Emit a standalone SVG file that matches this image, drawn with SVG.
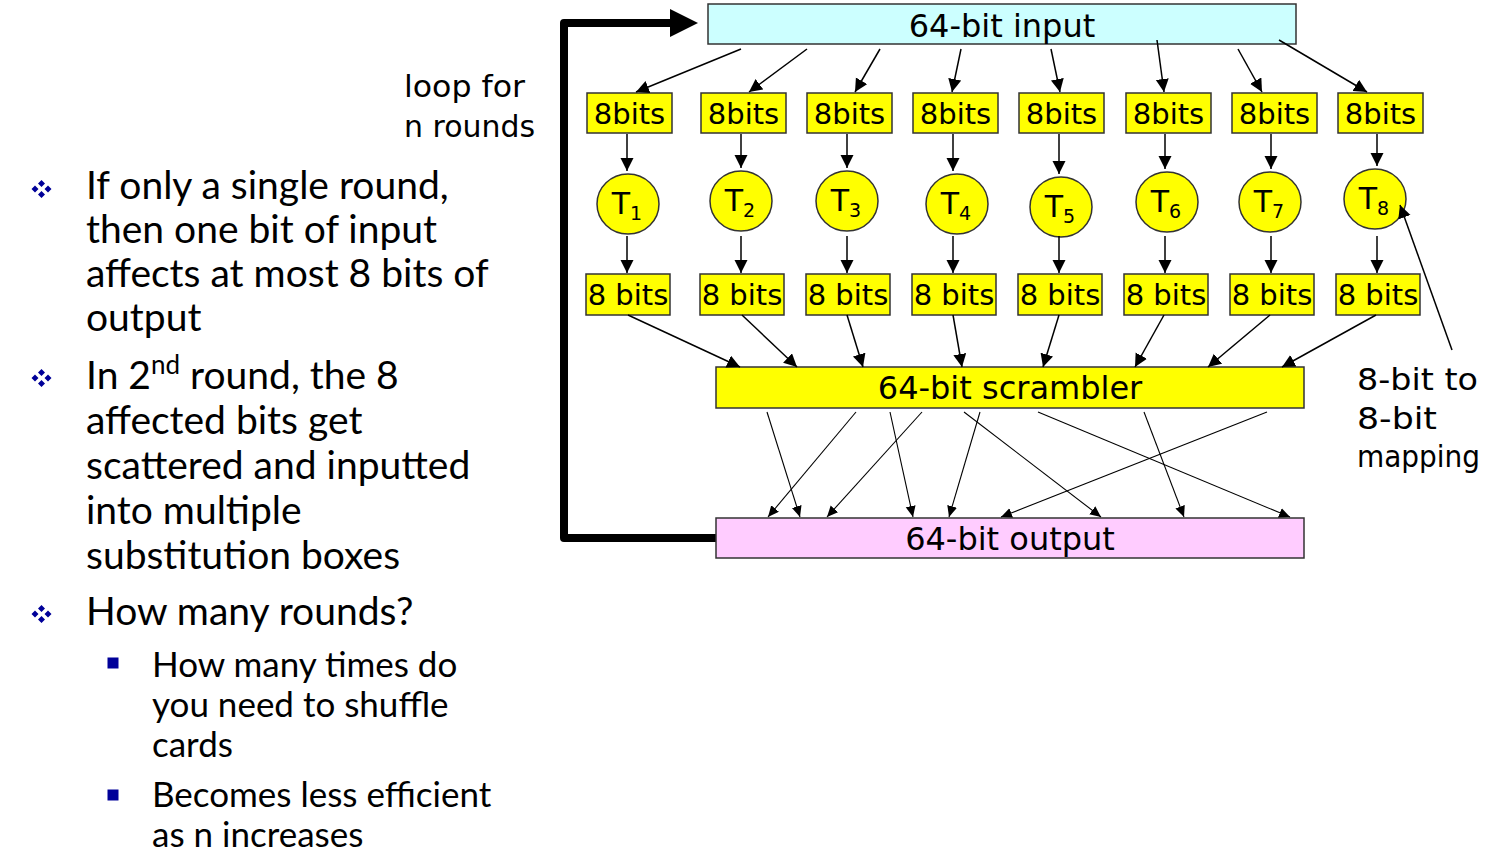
<svg xmlns="http://www.w3.org/2000/svg" width="1502" height="866" viewBox="0 0 1502 866">
<style>
.bx{fill:#ffff00;stroke:#333;stroke-width:1.5}
.lbl{font-family:"DejaVu Sans",sans-serif;fill:#000;text-anchor:middle}
.b8{font-size:29px}
.txt{font-family:Lato,"Open Sans",sans-serif;font-size:39px;fill:#000}
.sub{font-size:35px}
.c1{stroke:#000;stroke-width:1.5;fill:none;marker-end:url(#ah)}
.c2{stroke:#000;stroke-width:1.1;fill:none;marker-end:url(#ah2)}
.bul{fill:#000099}
</style>
<defs>
<marker id="ah" markerUnits="userSpaceOnUse" markerWidth="14" markerHeight="14" refX="13" refY="6.5" orient="auto"><path d="M0,0 L13,6.5 L0,13 z" fill="#000"/></marker>
<marker id="ah2" markerUnits="userSpaceOnUse" markerWidth="12" markerHeight="12" refX="11" refY="5" orient="auto"><path d="M0,0 L11,5 L0,10 z" fill="#000"/></marker>
<g id="dia"><path d="M0,-9 L3.5,-5.5 L0,-2 L-3.5,-5.5 z M-6.5,-3.5 L-3,0 L-6.5,3.5 L-10,0 z M6.5,-3.5 L10,0 L6.5,3.5 L3,0 z M0,2 L3.5,5.5 L0,9 L-3.5,5.5 z"/></g>
</defs>
<rect width="1502" height="866" fill="#fff"/>

<!-- loop arrow -->
<g id="loop">
<path d="M716,538 L564,538 L564,23 L672,23" stroke="#000" stroke-width="8" fill="none" stroke-linejoin="round"/>
<path d="M670,9 L698,23 L670,37 z" fill="#000"/>
</g>

<g id="input"><rect x="708" y="4" width="588" height="40" fill="#ccffff" stroke="#333" stroke-width="1.5"/><text class="lbl" x="1002" y="37" font-size="32">64-bit input</text></g>

<g id="in1"><rect class="bx" x="587" y="93" width="85" height="40"/><text class="lbl b8" x="629.5" y="124">8bits</text></g>
<g id="in2"><rect class="bx" x="701" y="93" width="85" height="40"/><text class="lbl b8" x="743.5" y="124">8bits</text></g>
<g id="in3"><rect class="bx" x="807" y="93" width="85" height="40"/><text class="lbl b8" x="849.5" y="124">8bits</text></g>
<g id="in4"><rect class="bx" x="913" y="93" width="85" height="40"/><text class="lbl b8" x="955.5" y="124">8bits</text></g>
<g id="in5"><rect class="bx" x="1019" y="93" width="85" height="40"/><text class="lbl b8" x="1061.5" y="124">8bits</text></g>
<g id="in6"><rect class="bx" x="1126" y="93" width="85" height="40"/><text class="lbl b8" x="1168.5" y="124">8bits</text></g>
<g id="in7"><rect class="bx" x="1232" y="93" width="85" height="40"/><text class="lbl b8" x="1274.5" y="124">8bits</text></g>
<g id="in8"><rect class="bx" x="1338" y="93" width="85" height="40"/><text class="lbl b8" x="1380.5" y="124">8bits</text></g>

<g id="t1"><ellipse class="bx" cx="628" cy="204" rx="31" ry="30"/><text class="lbl" x="627" y="214" font-size="30">T<tspan font-size="19" dy="6">1</tspan></text></g>
<g id="t2"><ellipse class="bx" cx="741" cy="201" rx="31" ry="30"/><text class="lbl" x="740" y="211" font-size="30">T<tspan font-size="19" dy="6">2</tspan></text></g>
<g id="t3"><ellipse class="bx" cx="847" cy="201" rx="31" ry="30"/><text class="lbl" x="846" y="211" font-size="30">T<tspan font-size="19" dy="6">3</tspan></text></g>
<g id="t4"><ellipse class="bx" cx="957" cy="204" rx="31" ry="30"/><text class="lbl" x="956" y="214" font-size="30">T<tspan font-size="19" dy="6">4</tspan></text></g>
<g id="t5"><ellipse class="bx" cx="1061" cy="207" rx="31" ry="30"/><text class="lbl" x="1060" y="217" font-size="30">T<tspan font-size="19" dy="6">5</tspan></text></g>
<g id="t6"><ellipse class="bx" cx="1167" cy="202" rx="31" ry="30"/><text class="lbl" x="1166" y="212" font-size="30">T<tspan font-size="19" dy="6">6</tspan></text></g>
<g id="t7"><ellipse class="bx" cx="1270" cy="202" rx="31" ry="30"/><text class="lbl" x="1269" y="212" font-size="30">T<tspan font-size="19" dy="6">7</tspan></text></g>
<g id="t8"><ellipse class="bx" cx="1375" cy="199" rx="31" ry="30"/><text class="lbl" x="1374" y="209" font-size="30">T<tspan font-size="19" dy="6">8</tspan></text></g>

<g id="out1"><rect class="bx" x="586" y="274" width="84" height="41"/><text class="lbl b8" x="628" y="305">8 bits</text></g>
<g id="out2"><rect class="bx" x="700" y="274" width="84" height="41"/><text class="lbl b8" x="742" y="305">8 bits</text></g>
<g id="out3"><rect class="bx" x="806" y="274" width="84" height="41"/><text class="lbl b8" x="848" y="305">8 bits</text></g>
<g id="out4"><rect class="bx" x="912" y="274" width="84" height="41"/><text class="lbl b8" x="954" y="305">8 bits</text></g>
<g id="out5"><rect class="bx" x="1018" y="274" width="84" height="41"/><text class="lbl b8" x="1060" y="305">8 bits</text></g>
<g id="out6"><rect class="bx" x="1124" y="274" width="84" height="41"/><text class="lbl b8" x="1166" y="305">8 bits</text></g>
<g id="out7"><rect class="bx" x="1230" y="274" width="84" height="41"/><text class="lbl b8" x="1272" y="305">8 bits</text></g>
<g id="out8"><rect class="bx" x="1336" y="274" width="84" height="41"/><text class="lbl b8" x="1378" y="305">8 bits</text></g>

<g id="scrambler"><rect class="bx" x="716" y="367" width="588" height="41"/><text class="lbl" x="1010" y="399" font-size="32">64-bit scrambler</text></g>
<g id="output"><rect x="716" y="518" width="588" height="40" fill="#ffccff" stroke="#333" stroke-width="1.5"/><text class="lbl" x="1010" y="550" font-size="32">64-bit output</text></g>

<g id="connectors">
<line class="c1" x1="741" y1="49" x2="636" y2="92"/>
<line class="c1" x1="807" y1="49" x2="749" y2="92"/>
<line class="c1" x1="880" y1="49" x2="855" y2="92"/>
<line class="c1" x1="961" y1="49" x2="952" y2="92"/>
<line class="c1" x1="1051" y1="49" x2="1060" y2="92"/>
<line class="c1" x1="1157" y1="40" x2="1164" y2="92"/>
<line class="c1" x1="1238" y1="49" x2="1262" y2="92"/>
<line class="c1" x1="1279" y1="40" x2="1367" y2="92"/>

<line class="c1" x1="627" y1="134" x2="627" y2="171"/>
<line class="c1" x1="741" y1="134" x2="741" y2="168"/>
<line class="c1" x1="847" y1="134" x2="847" y2="168"/>
<line class="c1" x1="953" y1="134" x2="953" y2="171"/>
<line class="c1" x1="1059" y1="134" x2="1059" y2="174"/>
<line class="c1" x1="1165" y1="134" x2="1165" y2="169"/>
<line class="c1" x1="1271" y1="134" x2="1271" y2="169"/>
<line class="c1" x1="1377" y1="134" x2="1377" y2="166"/>

<line class="c1" x1="627" y1="236" x2="627" y2="273"/>
<line class="c1" x1="741" y1="236" x2="741" y2="273"/>
<line class="c1" x1="847" y1="236" x2="847" y2="273"/>
<line class="c1" x1="953" y1="236" x2="953" y2="273"/>
<line class="c1" x1="1059" y1="236" x2="1059" y2="273"/>
<line class="c1" x1="1165" y1="236" x2="1165" y2="273"/>
<line class="c1" x1="1271" y1="236" x2="1271" y2="273"/>
<line class="c1" x1="1377" y1="236" x2="1377" y2="273"/>

<line class="c1" x1="628" y1="315" x2="740" y2="367"/>
<line class="c1" x1="742" y1="315" x2="797" y2="367"/>
<line class="c1" x1="847" y1="315" x2="863" y2="367"/>
<line class="c1" x1="953" y1="315" x2="962" y2="367"/>
<line class="c1" x1="1059" y1="315" x2="1043" y2="367"/>
<line class="c1" x1="1164" y1="315" x2="1135" y2="367"/>
<line class="c1" x1="1270" y1="315" x2="1208" y2="367"/>
<line class="c1" x1="1376" y1="315" x2="1282" y2="367"/>

<line class="c1" x1="1452" y1="350" x2="1400" y2="205"/>

<line class="c2" x1="767" y1="412" x2="800" y2="517"/>
<line class="c2" x1="856" y1="412" x2="768" y2="517"/>
<line class="c2" x1="890" y1="412" x2="913" y2="517"/>
<line class="c2" x1="922" y1="412" x2="827" y2="517"/>
<line class="c2" x1="980" y1="412" x2="949" y2="517"/>
<line class="c2" x1="964" y1="412" x2="1101" y2="517"/>
<line class="c2" x1="1038" y1="412" x2="1290" y2="517"/>
<line class="c2" x1="1144" y1="412" x2="1184" y2="517"/>
<line class="c2" x1="1267" y1="412" x2="1001" y2="517"/>
</g>

<g id="loopLabel" class="lbl" font-size="30" style="text-anchor:start"><text x="404" y="97" textLength="121" lengthAdjust="spacingAndGlyphs">loop for</text><text x="404" y="137" textLength="131" lengthAdjust="spacingAndGlyphs">n rounds</text></g>
<g id="mapLabel" class="lbl" font-size="31" style="text-anchor:start"><text x="1357" y="390" textLength="121" lengthAdjust="spacingAndGlyphs">8-bit to</text><text x="1357" y="429" textLength="80" lengthAdjust="spacingAndGlyphs">8-bit</text><text x="1357" y="467" textLength="123" lengthAdjust="spacingAndGlyphs">mapping</text></g>

<g id="bullets">
<use href="#dia" class="bul" x="41.5" y="189"/>
<use href="#dia" class="bul" x="41.5" y="378"/>
<use href="#dia" class="bul" x="41.5" y="614"/>
<rect class="bul" x="107.5" y="657.5" width="11" height="11"/>
<rect class="bul" x="107.5" y="789.5" width="11" height="11"/>
<text class="txt" x="86" y="199">If only a single round,</text>
<text class="txt" x="86" y="243">then one bit of input</text>
<text class="txt" x="86" y="287">affects at most 8 bits of</text>
<text class="txt" x="86" y="331">output</text>
<text class="txt" x="86" y="389">In 2<tspan font-size="26" dy="-15">nd</tspan><tspan dy="15"> round, the 8</tspan></text>
<text class="txt" x="86" y="434">affected bits get</text>
<text class="txt" x="86" y="479">scattered and inputted</text>
<text class="txt" x="86" y="524">into multiple</text>
<text class="txt" x="86" y="569">substitution boxes</text>
<text class="txt" x="86" y="625">How many rounds?</text>
<text class="txt sub" x="152" y="677">How many times do</text>
<text class="txt sub" x="152" y="717">you need to shuffle</text>
<text class="txt sub" x="152" y="757">cards</text>
<text class="txt sub" x="152" y="807">Becomes less efficient</text>
<text class="txt sub" x="152" y="847">as n increases</text>
</g>
</svg>
